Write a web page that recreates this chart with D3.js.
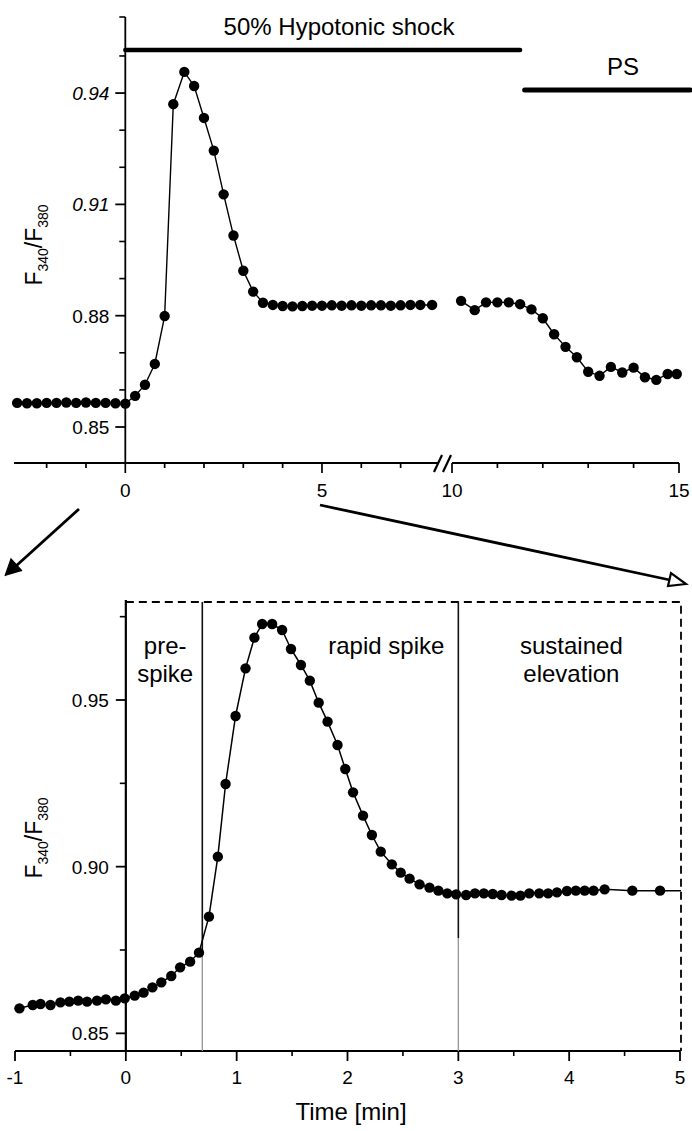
<!DOCTYPE html>
<html><head><meta charset="utf-8">
<script src="https://cdn.jsdelivr.net/npm/d3@7"></script>
<style>
body{margin:0;background:#fff;}
svg{display:block;font-family:"Liberation Sans",Arial,sans-serif;}
</style></head>
<body>
<svg id="c" width="692" height="1131"></svg>
<script>
// ---------- DATA ----------
// Top panel, segment before the axis break (time in min)
const topTimes1 = [-2.75,-2.5,-2.25,-2,-1.75,-1.5,-1.25,-1,-0.75,-0.5,-0.25,0,
  0.25,0.5,0.75,1,1.22,1.5,1.75,2,2.25,2.5,2.75,3,3.25,3.5,
  3.75,4,4.25,4.5,4.75,5,5.25,5.5,5.75,6,6.25,6.5,6.75,7,7.25,7.5,7.8];
const topValues1 = [0.8565,0.8564,0.8564,0.8565,0.8565,0.8566,0.8565,0.8566,0.8565,0.8565,0.8564,0.8563,
  0.8584,0.8614,0.8670,0.8799,0.9370,0.9457,0.9419,0.9333,0.9245,0.9127,0.9016,0.8921,0.8865,0.8835,
  0.8829,0.8826,0.8825,0.8826,0.8827,0.8827,0.8828,0.8827,0.8828,0.8827,0.8828,0.8828,0.8827,0.8828,0.8829,0.8829,0.8829];
// Top panel, segment after the axis break
const topTimes2 = [10.2,10.5,10.75,11,11.25,11.5,11.75,12,12.25,12.5,12.75,13,13.25,13.5,13.75,14,14.25,14.5,14.75,14.95];
const topValues2 = [0.8840,0.8815,0.8836,0.8836,0.8836,0.8831,0.8817,0.8793,0.8750,0.8716,0.8688,0.8649,0.8638,0.8662,0.8647,0.8660,0.8634,0.8627,0.8643,0.8643];
// Bottom panel (expanded time scale, min)
const botTimes = [-0.96,-0.84,-0.77,-0.68,-0.59,-0.51,-0.43,-0.35,-0.26,-0.18,-0.09,-0.01,
  0.08,0.16,0.24,0.32,0.41,0.49,0.58,0.66,0.75,0.83,
  0.90,0.99,1.08,1.16,1.23,1.32,1.41,1.49,1.58,1.66,1.74,1.82,1.91,1.98,
  2.05,2.14,2.22,2.30,2.40,2.48,2.56,2.65,2.74,2.82,2.90,2.98,
  3.07,3.15,3.23,3.31,3.39,3.48,3.56,3.64,3.73,3.81,3.89,3.98,4.06,4.14,4.22,4.32,
  4.57,4.82,5.07];
const botValues = [0.8575,0.8585,0.8588,0.8585,0.8593,0.8595,0.8598,0.8595,0.8598,0.8602,0.8598,0.8605,
  0.8613,0.8622,0.8638,0.8653,0.8672,0.8698,0.8715,0.8742,0.8850,0.9030,
  0.9248,0.9452,0.9595,0.9687,0.9728,0.9728,0.9710,0.9653,0.9605,0.9558,0.9492,0.9435,0.9365,0.9293,
  0.9223,0.9153,0.9095,0.9045,0.9007,0.8982,0.8964,0.8947,0.8937,0.8928,0.8920,0.8917,
  0.8915,0.8920,0.8920,0.8918,0.8915,0.8913,0.8913,0.8920,0.8920,0.8920,0.8923,0.8927,0.8928,0.8928,0.8928,0.8932,
  0.8928,0.8928,0.8928];
// Ticks
const topYMajor = [0.85,0.88,0.91,0.94];
const topYMinor = [0.86,0.87,0.89,0.90,0.92,0.93,0.95];
const topX1Major = [0,5], topX1Minor = [-2,-1,1,2,3,4,6,7];
const topX2Major = [10,15], topX2Minor = [11,12,13,14];
const botYMajor = [0.85,0.90,0.95], botYMinor = [0.875,0.925,0.975];
const botXMajor = [-1,0,1,2,3,4,5], botXMinor = [-0.5,0.5,1.5,2.5,3.5,4.5];
// Annotations
const phaseBounds = [0.69, 3.0];
const phaseLabels = [{t:0.355, lines:["pre-","spike"]},{t:2.35, lines:["rapid spike"]},{t:4.02, lines:["sustained","elevation"]}];
const shockBar = [0, 11.5], psBar = [11.6, 15.25];

// ---------- DRAW ----------
const svg = d3.select("#c");
const FS_TICK = 19, FS_LAB = 24, R = 5.2;

// Top panel scales
const xT1 = d3.scaleLinear().domain([-2.83, 7.95]).range([14, 438]);
const xT2 = d3.scaleLinear().domain([10, 15]).range([452, 679]);
const yT = d3.scaleLinear().domain([0.8403, 0.9605]).range([463, 17]);
const xTop = t => t < 9 ? xT1(t) : xT2(t);

// Bottom panel scales
const xB = d3.scaleLinear().domain([-1, 5]).range([15, 680]);
const yB = d3.scaleLinear().domain([0.8447, 0.98]).range([1051, 600]);

const defs = svg.append("defs");
defs.append("clipPath").attr("id","cl1").append("rect").attr("x",0).attr("y",0).attr("width",439).attr("height",470);
defs.append("clipPath").attr("id","cl2").append("rect").attr("x",452).attr("y",0).attr("width",240).attr("height",470);
defs.append("clipPath").attr("id","clB").append("rect").attr("x",0).attr("y",590).attr("width",681).attr("height",470);

// ----- Top axes -----
const gTop = svg.append("g");
gTop.append("line").attr("x1",xT1(0)).attr("x2",xT1(0)).attr("y1",yT.range()[1]).attr("y2",yT.range()[0]).attr("stroke","#000").attr("stroke-width",1.8);
gTop.append("line").attr("x1",xT1(0)-6).attr("x2",xT1(0)).attr("y1",17).attr("y2",17).attr("stroke","#000").attr("stroke-width",1.6);
gTop.selectAll(".tym").data(topYMajor).join("line").attr("x1",xT1(0)-10).attr("x2",xT1(0)).attr("y1",d=>yT(d)).attr("y2",d=>yT(d)).attr("stroke","#000").attr("stroke-width",1.8);
gTop.selectAll(".tyn").data(topYMinor).join("line").attr("x1",xT1(0)-6).attr("x2",xT1(0)).attr("y1",d=>yT(d)).attr("y2",d=>yT(d)).attr("stroke","#000").attr("stroke-width",1.6);
gTop.selectAll(".tyl").data(topYMajor).join("text").attr("x",xT1(0)-16).attr("y",d=>yT(d)+7)
  .attr("text-anchor","end").attr("font-size",FS_TICK).attr("font-style",d=>d>0.9?"italic":"normal").text(d=>d3.format(".2f")(d));
gTop.append("line").attr("x1",14).attr("x2",438).attr("y1",463).attr("y2",463).attr("stroke","#000").attr("stroke-width",2);
gTop.append("line").attr("x1",452).attr("x2",xT2(15)).attr("y1",463).attr("y2",463).attr("stroke","#000").attr("stroke-width",2);
const tickX = (g,scale,vals,len) => g.append("g").selectAll("line").data(vals).join("line")
  .attr("x1",d=>scale(d)).attr("x2",d=>scale(d)).attr("y1",463).attr("y2",463+len).attr("stroke","#000").attr("stroke-width",1.7);
tickX(gTop,xT1,topX1Major,10); tickX(gTop,xT1,topX1Minor,5);
tickX(gTop,xT2,topX2Major,10); tickX(gTop,xT2,topX2Minor,5);
gTop.selectAll(".txl1").data(topX1Major.map(d=>[d,xT1(d)]).concat(topX2Major.map(d=>[d,xT2(d)]))).join("text")
  .attr("x",d=>d[1]).attr("y",497).attr("text-anchor","middle").attr("font-size",FS_TICK).text(d=>d[0]);
[438,447].forEach(x=>gTop.append("line").attr("x1",x-4).attr("x2",x+4).attr("y1",472).attr("y2",455).attr("stroke","#000").attr("stroke-width",2.2));

// data segments
const lineT1 = d3.line().x(d=>xT1(d[0])).y(d=>yT(d[1]));
const lineT2 = d3.line().x(d=>xT2(d[0])).y(d=>yT(d[1]));
const seg1 = topTimes1.map((t,i)=>[t,topValues1[i]]);
const seg2 = topTimes2.map((t,i)=>[t,topValues2[i]]);
const g1 = svg.append("g").attr("clip-path","url(#cl1)");
g1.append("path").attr("d",lineT1(seg1)).attr("fill","none").attr("stroke","#000").attr("stroke-width",1.4);
g1.selectAll("circle").data(seg1).join("circle").attr("cx",d=>xT1(d[0])).attr("cy",d=>yT(d[1])).attr("r",R).attr("fill","#000");
const g2 = svg.append("g").attr("clip-path","url(#cl2)");
g2.append("path").attr("d",lineT2(seg2)).attr("fill","none").attr("stroke","#000").attr("stroke-width",1.4);
g2.selectAll("circle").data(seg2).join("circle").attr("cx",d=>xT2(d[0])).attr("cy",d=>yT(d[1])).attr("r",R).attr("fill","#000");

// treatment bars
svg.append("line").attr("x1",xTop(shockBar[0])).attr("x2",xTop(shockBar[1])).attr("y1",50).attr("y2",50).attr("stroke","#000").attr("stroke-width",4.5).attr("stroke-linecap","round");
svg.append("text").attr("x",339).attr("y",35).attr("text-anchor","middle").attr("font-size",FS_LAB).text("50% Hypotonic shock");
svg.append("line").attr("x1",xTop(psBar[0])).attr("x2",xTop(psBar[1])).attr("y1",90).attr("y2",90).attr("stroke","#000").attr("stroke-width",5).attr("stroke-linecap","round");
svg.append("text").attr("x",623).attr("y",75).attr("text-anchor","middle").attr("font-size",FS_LAB).text("PS");

function yLabel(cx, cy){
  const t = svg.append("text").attr("transform",`translate(${cx},${cy}) rotate(-90)`).attr("text-anchor","middle").attr("font-size",23);
  t.append("tspan").text("F");
  t.append("tspan").attr("font-size",14).attr("dy",6).text("340");
  t.append("tspan").attr("dy",-6).text("/F");
  t.append("tspan").attr("font-size",14).attr("dy",6).text("380");
}
yLabel(42, 245);
yLabel(42, 838);

// arrows between panels
const arrowG = svg.append("g");
arrowG.append("line").attr("x1",79).attr("y1",509).attr("x2",16).attr("y2",566).attr("stroke","#000").attr("stroke-width",2.8);
arrowG.append("path").attr("d",d3.line()([[5,576],[11,559],[22,571]])).attr("fill","#000").attr("stroke","#000").attr("stroke-width",1.2);
arrowG.append("line").attr("x1",320).attr("y1",505).attr("x2",670).attr("y2",580).attr("stroke","#000").attr("stroke-width",2.8);
arrowG.append("path").attr("d",d3.line()([[686,584],[668,586],[671,573]])+"Z").attr("fill","#fff").attr("stroke","#000").attr("stroke-width",2.2);

// ----- Bottom axes -----
const gB = svg.append("g");
gB.append("line").attr("x1",xB(0)).attr("x2",xB(0)).attr("y1",600).attr("y2",1051).attr("stroke","#000").attr("stroke-width",2.2);
gB.append("line").attr("x1",xB(-1)).attr("x2",xB(5)).attr("y1",1051).attr("y2",1051).attr("stroke","#000").attr("stroke-width",2.2);
gB.selectAll(".bym").data(botYMajor).join("line").attr("x1",xB(0)-10).attr("x2",xB(0)).attr("y1",d=>yB(d)).attr("y2",d=>yB(d)).attr("stroke","#000").attr("stroke-width",1.8);
gB.selectAll(".byn").data(botYMinor).join("line").attr("x1",xB(0)-6).attr("x2",xB(0)).attr("y1",d=>yB(d)).attr("y2",d=>yB(d)).attr("stroke","#000").attr("stroke-width",1.6);
gB.selectAll(".byl").data(botYMajor).join("text").attr("x",xB(0)-17).attr("y",d=>yB(d)+7)
  .attr("text-anchor","end").attr("font-size",FS_TICK).text(d=>d3.format(".2f")(d));
gB.selectAll(".bxm").data(botXMajor).join("line").attr("x1",d=>xB(d)).attr("x2",d=>xB(d)).attr("y1",1051).attr("y2",1061).attr("stroke","#000").attr("stroke-width",1.8);
gB.selectAll(".bxn").data(botXMinor).join("line").attr("x1",d=>xB(d)).attr("x2",d=>xB(d)).attr("y1",1051).attr("y2",1056).attr("stroke","#000").attr("stroke-width",1.6);
gB.selectAll(".bxl").data(botXMajor).join("text").attr("x",d=>xB(d)).attr("y",1084).attr("text-anchor","middle").attr("font-size",FS_TICK).text(d=>d);
svg.append("text").attr("x",351).attr("y",1120).attr("text-anchor","middle").attr("font-size",FS_LAB).text("Time [min]");

gB.append("path").attr("d",`M${xB(0)},602 H${xB(5)+1} V1051`).attr("fill","none").attr("stroke","#000").attr("stroke-width",1.8).attr("stroke-dasharray","8,5");

phaseBounds.forEach((t,i)=>{
  const split = i===0 ? 950 : 938;
  gB.append("line").attr("x1",xB(t)).attr("x2",xB(t)).attr("y1",602).attr("y2",split).attr("stroke","#111").attr("stroke-width",1.6);
  gB.append("line").attr("x1",xB(t)).attr("x2",xB(t)).attr("y1",split).attr("y2",1051).attr("stroke","#999").attr("stroke-width",1.4);
});
phaseLabels.forEach(p=>{
  const t = svg.append("text").attr("text-anchor","middle").attr("font-size",FS_LAB);
  p.lines.forEach((ln,j)=>t.append("tspan").attr("x",xB(p.t)).attr("y",654+j*28).text(ln));
});

const botData = botTimes.map((t,i)=>[t,botValues[i]]);
const gBd = svg.append("g").attr("clip-path","url(#clB)");
gBd.append("path").attr("d",d3.line().x(d=>xB(d[0])).y(d=>yB(d[1]))(botData)).attr("fill","none").attr("stroke","#000").attr("stroke-width",1.5);
gBd.selectAll("circle").data(botData).join("circle").attr("cx",d=>xB(d[0])).attr("cy",d=>yB(d[1])).attr("r",R).attr("fill","#000");
</script>
</body></html>
